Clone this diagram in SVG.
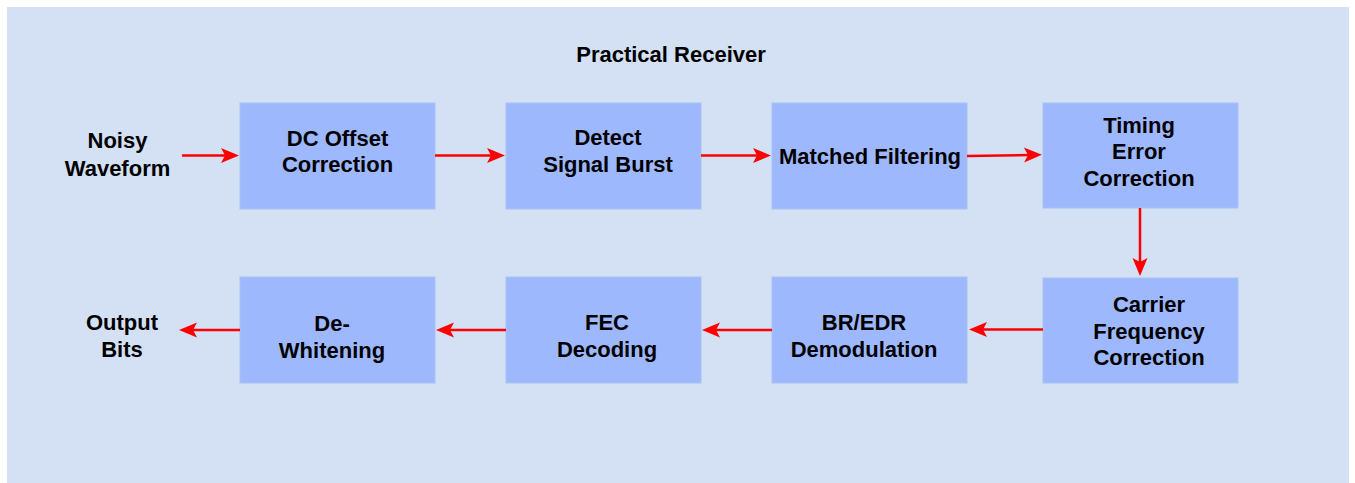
<svg xmlns="http://www.w3.org/2000/svg" width="1355" height="483" viewBox="0 0 1355 483">
<style>
  .bg { fill: #D4E1F4; }
  .box { fill: #9EB8FD; stroke: #A8C2F2; stroke-width: 1; }
  .t { font-family: "Liberation Sans", Arial, sans-serif; font-weight: bold; font-size: 22px; fill: #000000; text-anchor: middle; }
  .c { stroke: #FF0000; stroke-width: 2.5; fill: none; marker-end: url(#ah); }
</style>
<defs>
  <marker id="ah" markerUnits="userSpaceOnUse" viewBox="-9 -8 20 16" refX="0" refY="0" markerWidth="20" markerHeight="16" orient="auto">
    <path d="M10,0 L-8,-7.5 L-4,0 L-8,7.5 Z" fill="#FF0000"/>
  </marker>
</defs>
<rect width="1355" height="483" fill="#FFFFFF"/>
<rect class="bg" x="7" y="7" width="1342" height="476"/>
<g id="title"><text class="t" x="671" y="62">Practical Receiver</text></g>
<g id="input"><text class="t" x="117.5" y="148">Noisy</text><text class="t" x="117.5" y="175.5">Waveform</text></g>
<g id="dc-offset"><rect class="box" x="240" y="103" width="195" height="106"/><text class="t" x="337.5" y="145.5">DC Offset</text><text class="t" x="337.5" y="172">Correction</text></g>
<g id="detect"><rect class="box" x="506" y="103" width="195" height="106"/><text class="t" x="608" y="145">Detect</text><text class="t" x="608" y="171.5">Signal Burst</text></g>
<g id="matched"><rect class="box" x="772" y="103" width="195" height="106"/><text class="t" x="870" y="164">Matched Filtering</text></g>
<g id="timing"><rect class="box" x="1043" y="103" width="195" height="105"/><text class="t" x="1139" y="132.5">Timing</text><text class="t" x="1139" y="159">Error</text><text class="t" x="1139" y="185.5">Correction</text></g>
<g id="carrier"><rect class="box" x="1043" y="278" width="195" height="105"/><text class="t" x="1149" y="311.5">Carrier</text><text class="t" x="1149" y="338.5">Frequency</text><text class="t" x="1149" y="365">Correction</text></g>
<g id="demod"><rect class="box" x="772" y="277" width="195" height="106"/><text class="t" x="864" y="330">BR/EDR</text><text class="t" x="864" y="357">Demodulation</text></g>
<g id="fec"><rect class="box" x="506" y="277" width="195" height="106"/><text class="t" x="607" y="330">FEC</text><text class="t" x="607" y="357">Decoding</text></g>
<g id="dewhiten"><rect class="box" x="240" y="277" width="195" height="106"/><text class="t" x="332" y="330.5">De-</text><text class="t" x="332" y="357.5">Whitening</text></g>
<g id="output"><text class="t" x="122" y="330">Output</text><text class="t" x="122" y="356.5">Bits</text></g>
<g id="connectors">
  <path class="c" d="M182,155.5 L229,155.5"/>
  <path class="c" d="M435,155.5 L495,155.5"/>
  <path class="c" d="M701,155.5 L761,155.5"/>
  <path class="c" d="M967,156 L1032,155"/>
  <path class="c" d="M1140,208 L1140,266"/>
  <path class="c" d="M1043,329.5 L979,329.5"/>
  <path class="c" d="M772,330 L712,330"/>
  <path class="c" d="M506,330 L446,330"/>
  <path class="c" d="M240,330 L189,330"/>
</g>
</svg>
